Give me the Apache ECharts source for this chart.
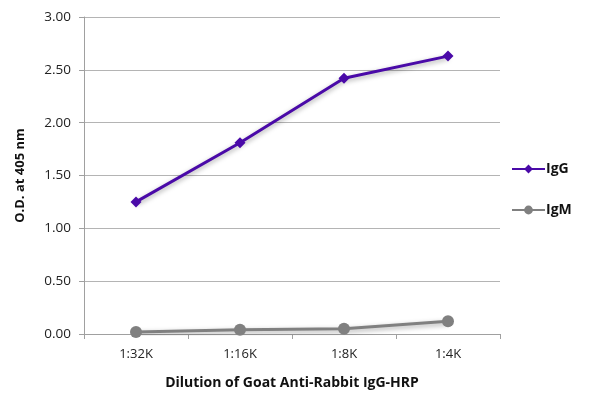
<!DOCTYPE html>
<html>
<head>
<meta charset="utf-8">
<script src="https://cdn.jsdelivr.net/npm/echarts@6/dist/echarts.min.js"></script>
<style>
  html, body { margin: 0; padding: 0; background: #fff; }
  #chart { width: 600px; height: 404px; }
</style>
</head>
<body>
<div id="chart"></div>
<script>
// Data
var dilutions = ['1:32K', '1:16K', '1:8K', '1:4K'];
var igG = [1.25, 1.81, 2.42, 2.63];
var igM = [0.02, 0.04, 0.05, 0.12];

var chart = echarts.init(document.getElementById('chart'));
var font = '"Open Sans", Arial, sans-serif';

chart.setOption({
    animation: false,
    textStyle: { fontFamily: font },
    grid: { left: 84, right: 100, top: 17, bottom: 70 },
    legend: {
        orient: 'vertical',
        left: 506,
        top: 157,
        itemGap: 27,
        itemWidth: 33,
        itemHeight: 11,
        textStyle: { fontFamily: font, fontSize: 14, fontWeight: 'bold', color: '#111', padding: [0, 0, 0, -4] },
        data: ['IgG', 'IgM']
    },
    xAxis: {
        type: 'category',
        data: dilutions,
        boundaryGap: true,
        name: 'Dilution of Goat Anti-Rabbit IgG-HRP',
        nameLocation: 'middle',
        nameGap: 42,
        nameTextStyle: { fontFamily: font, fontSize: 14, fontWeight: 'bold', color: '#111' },
        axisLine: { lineStyle: { color: '#a0a0a0', width: 1 } },
        axisTick: { show: true, length: 5, lineStyle: { color: '#a0a0a0' } },
        axisLabel: { fontFamily: font, fontSize: 13, color: '#222', margin: 14 }
    },
    yAxis: {
        type: 'value',
        min: 0,
        max: 3,
        interval: 0.5,
        name: 'O.D. at 405 nm',
        nameLocation: 'middle',
        nameGap: 57,
        nameTextStyle: { fontFamily: font, fontSize: 13, fontWeight: 'bold', color: '#111' },
        axisLine: { show: true, lineStyle: { color: '#a0a0a0', width: 1 } },
        axisTick: { show: true, length: 5, lineStyle: { color: '#a0a0a0' } },
        axisLabel: {
            fontFamily: font, fontSize: 13.5, color: '#222', margin: 13,
            formatter: function (v) { return v.toFixed(2); }
        },
        splitLine: { show: true, lineStyle: { color: '#b4b4b4', width: 1 } }
    },
    series: [{
        name: 'IgG',
        type: 'line',
        data: igG,
        symbol: 'diamond',
        symbolSize: 11,
        lineStyle: { color: '#4a0aa8', width: 3, shadowColor: 'rgba(0,0,0,0.35)', shadowBlur: 5, shadowOffsetY: 2 },
        itemStyle: { color: '#4a0aa8' }
    }, {
        name: 'IgM',
        type: 'line',
        data: igM,
        symbol: 'circle',
        symbolSize: 12,
        lineStyle: { color: '#808080', width: 3, shadowColor: 'rgba(0,0,0,0.35)', shadowBlur: 5, shadowOffsetY: 2 },
        itemStyle: { color: '#808080' }
    }]
});
</script>
</body>
</html>
